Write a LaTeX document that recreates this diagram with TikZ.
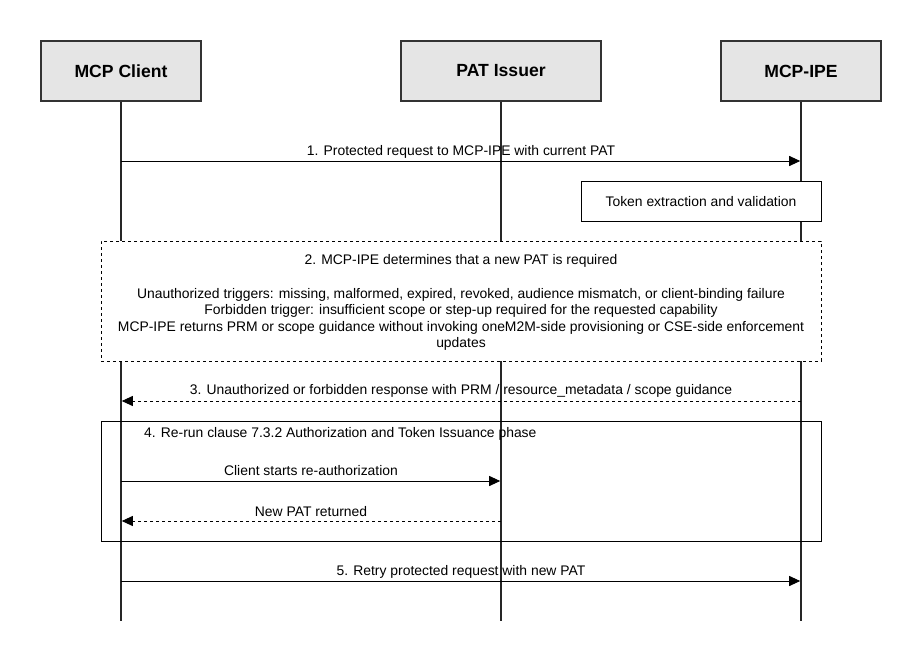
\documentclass[tikz,border=0pt]{standalone}
\usepackage{fontspec}
\setmainfont{Liberation Sans}
\usetikzlibrary{arrows.meta}
\begin{document}
\begin{tikzpicture}[x=1pt,y=-1pt,
  actor/.style={draw=black!80,line width=1.6pt,fill=black!10,minimum width=160pt,minimum height=60pt,inner sep=0pt,font=\fontsize{17.6}{20}\selectfont\bfseries},
  life/.style={draw=black!85,line width=1.6pt},
  msg/.style={draw=black,line width=0.9pt,-{Triangle[length=11pt,width=10pt]},shorten >=0.8pt},
  reply/.style={msg,dash pattern=on 3pt off 3pt},
  lbl/.style={font=\fontsize{13.9}{16.4}\selectfont,inner sep=0pt,align=center},
  note/.style={draw=black,line width=0.8pt,fill=white,inner sep=0pt}
]
\useasboundingbox (0,0) rectangle (923,663);
% actors
\node[actor,minimum width=160pt] (cl) at (121,71) {MCP Client};
\node[actor,minimum width=200pt] (pat) at (501,71) {PAT Issuer};
\node[actor,minimum width=160pt] (ipe) at (801,71) {MCP-IPE};
% lifeline ends
\coordinate (clE) at (121,621);
\coordinate (patE) at (501,621);
\coordinate (ipeE) at (801,621);
\draw[life] (cl.south) -- (clE);
\draw[life] (pat.south) -- (patE);
\draw[life] (ipe.south) -- (ipeE);
% message 1
\coordinate (m1a) at (121,161);
\coordinate (m1b) at (801,161);
\draw[msg] (m1a) -- (m1b);
\node[lbl] (l1) at (461,152) {1. Protected request to MCP-IPE with current PAT};
% token box
\node[note,minimum width=240pt,minimum height=40pt] (tok) at (701,201) {};
\node[lbl] (tokt) at (701,202) {Token extraction and validation};
% dashed box 2
\node[note,dash pattern=on 3pt off 3pt,minimum width=720pt,minimum height=120pt] (b2) at (461,301) {};
\node[lbl] (b2t) at (461,261) {2. MCP-IPE determines that a new PAT is required};
\node[lbl,anchor=north] (b2u) at (461,288) {Unauthorized triggers: missing, malformed, expired, revoked, audience mismatch, or client-binding failure\\
Forbidden trigger: insufficient scope or step-up required for the requested capability\\
MCP-IPE returns PRM or scope guidance without invoking oneM2M-side provisioning or CSE-side enforcement\\
updates};
% message 3
\coordinate (m3a) at (801,401);
\coordinate (m3b) at (121,401);
\draw[reply] (m3a) -- (m3b);
\node[lbl] (l3) at (461,391) {3. Unauthorized or forbidden response with PRM / resource\_metadata / scope guidance};
% frame 4
\node[draw=black,line width=0.8pt,minimum width=720pt,minimum height=120pt,inner sep=0pt] (f4) at (461,481) {};
\node[lbl,anchor=west] (f4t) at (144,434) {4. Re-run clause 7.3.2 Authorization and Token Issuance phase};
\coordinate (m4a) at (121,481);
\coordinate (m4b) at (501,481);
\draw[msg] (m4a) -- (m4b);
\node[lbl] (l4) at (311,471) {Client starts re-authorization};
\coordinate (m4c) at (501,521);
\coordinate (m4d) at (121,521);
\draw[reply] (m4c) -- (m4d);
\node[lbl] (l4b) at (311,512) {New PAT returned};
% message 5
\coordinate (m5a) at (121,581);
\coordinate (m5b) at (801,581);
\draw[msg] (m5a) -- (m5b);
\node[lbl] (l5) at (461,572) {5. Retry protected request with new PAT};
\end{tikzpicture}
\end{document}
